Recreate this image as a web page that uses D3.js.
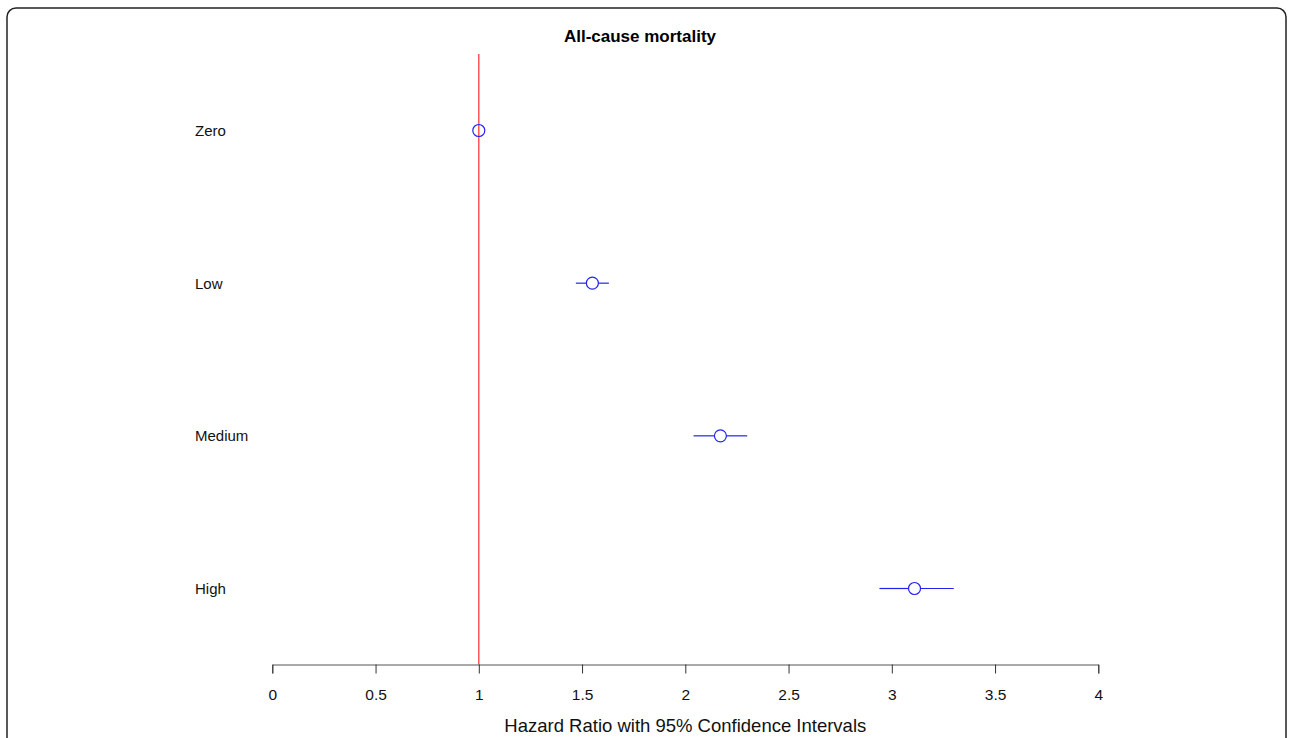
<!DOCTYPE html>
<html><head><meta charset="utf-8">
<script src="https://cdn.jsdelivr.net/npm/d3@7"></script>
<style>body{margin:0;background:#fff}svg{display:block}</style>
</head><body>
<script>
const categories = ["Zero","Low","Medium","High"];
const hr = [1.0, 1.55, 2.17, 3.11];
const lower = [1.0, 1.47, 2.04, 2.94];
const upper = [1.0, 1.63, 2.30, 3.30];
const xTicks = [0,0.5,1,1.5,2,2.5,3,3.5,4];
const title = "All-cause mortality";
const xTitle = "Hazard Ratio with 95% Confidence Intervals";

const W = 1290, H = 738;
const FF = "Liberation Sans, Arial, sans-serif";
const svg = d3.select("body").append("svg").attr("width",W).attr("height",H)
  .style("font-family",FF);

svg.append("rect").attr("x",7).attr("y",8).attr("width",1279).attr("height",780)
  .attr("rx",9).attr("fill","none").attr("stroke","#222").attr("stroke-width",1.5);

const x = d3.scaleLinear().domain([0,4]).range([272.3,1098.3]);
const y = d3.scalePoint().domain(categories).range([130.5,588.5]);
const axisY = 664.5;
const R = 6;

svg.append("text").attr("x",640).attr("y",42).attr("text-anchor","middle")
  .attr("font-weight","bold").attr("font-size",17).attr("fill","#000").text(title);

// reference line
svg.append("line").attr("x1",x(1)).attr("x2",x(1)).attr("y1",54).attr("y2",axisY)
  .attr("stroke","#ff3b3b").attr("stroke-width",1.3);

// axis
const ax = svg.append("g").attr("transform",`translate(0,${axisY})`)
  .call(d3.axisBottom(x).tickValues(xTicks).tickSize(9).tickPadding(15).tickFormat(d=>String(d)));
ax.select(".domain").attr("stroke","#555").attr("stroke-width",1);
ax.selectAll(".tick line").attr("stroke","#333");
ax.selectAll("text").attr("font-size",15.5).attr("fill","#111").attr("font-family",FF);

svg.append("text").attr("x",x(2)).attr("y",732).attr("text-anchor","middle")
  .attr("font-size",18.5).attr("fill","#111").text(xTitle);

// labels
svg.selectAll("text.cat").data(categories).join("text").attr("class","cat")
  .attr("x",195).attr("y",d=>y(d)+5.5).attr("font-size",15).attr("fill","#111").text(d=>d);

// CIs (two segments ending at the circle edge)
const data = categories.map((c,i)=>({c,hr:hr[i],lo:lower[i],hi:upper[i]}));
const segs = [];
data.forEach(d=>{
  if (x(d.hr)-x(d.lo) > R) segs.push({c:d.c, a:x(d.lo), b:x(d.hr)-R});
  if (x(d.hi)-x(d.hr) > R) segs.push({c:d.c, a:x(d.hr)+R, b:x(d.hi)});
});
svg.selectAll("line.ci").data(segs).join("line").attr("class","ci")
  .attr("x1",d=>d.a).attr("x2",d=>d.b).attr("y1",d=>y(d.c)).attr("y2",d=>y(d.c))
  .attr("stroke","#2222ee").attr("stroke-width",1.2);
svg.selectAll("circle.pt").data(data).join("circle").attr("class","pt")
  .attr("cx",d=>x(d.hr)).attr("cy",d=>y(d.c)).attr("r",R)
  .attr("fill","none").attr("stroke","#2222ee").attr("stroke-width",1.2);
</script>
</body></html>
